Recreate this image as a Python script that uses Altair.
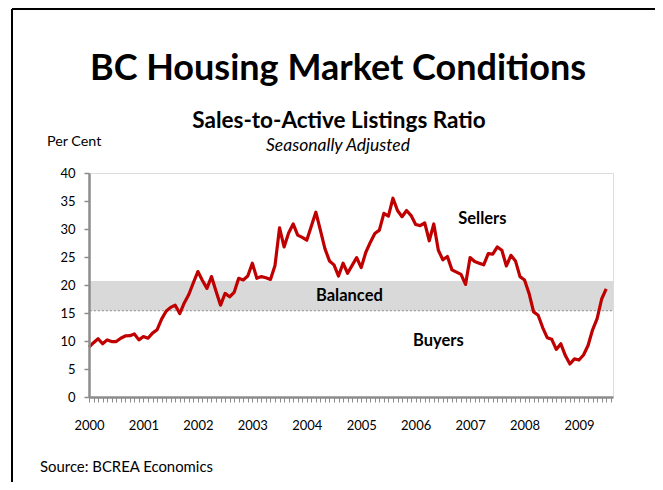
import altair as alt
import pandas as pd

# Monthly sales-to-active listings ratio, Jan 2000 .. Jul 2009
ratio = [8.9, 9.7, 10.4, 9.5, 10.2, 9.9, 9.9, 10.5, 10.9, 10.95, 11.25, 10.2,
         10.8, 10.5, 11.4, 12.0, 13.9, 15.3, 16.0, 16.4, 14.9, 16.8, 18.3, 20.4,
         22.4, 20.8, 19.4, 21.5, 18.9, 16.4, 18.5, 17.9, 18.7, 21.2, 20.9, 21.6,
         23.9, 21.2, 21.5, 21.3, 21.0, 23.5, 30.2, 26.8, 29.3, 30.9, 28.9, 28.5,
         28.0, 30.5, 33.0, 29.8, 26.5, 24.3, 23.6, 21.6, 23.9, 22.1, 23.5, 24.9,
         23.1, 25.8, 27.6, 29.2, 29.8, 32.8, 32.3, 35.5, 33.3, 32.2, 33.3, 32.4,
         30.8, 30.6, 31.1, 27.9, 30.9, 26.2, 24.5, 25.1, 22.7, 22.3, 21.9, 20.1,
         24.9, 24.2, 23.9, 23.6, 25.6, 25.5, 26.8, 26.2, 23.4, 25.3, 24.3, 21.5,
         20.9, 18.5, 15.2, 14.6, 12.4, 10.6, 10.3, 8.5, 9.5, 7.4, 5.9, 6.8,
         6.6, 7.5, 9.2, 12.0, 14.0, 17.5, 19.3]
years = [str(y) for y in range(2000, 2010)]
month_index = list(range(len(ratio)))

band_low = [15.4]
band_high = [20.7]

region_labels = ["Sellers", "Balanced", "Buyers"]
region_x = [86.7, 57.4, 77.0]
region_y = [31.8, 18.1, 10.0]

FONT = "Lato"
W, H = 524, 224
XMAX = 115.5

df = pd.DataFrame({"m": month_index, "ratio": ratio})
band_df = pd.DataFrame({"lo": band_low, "hi": band_high, "x0": [0.2], "x1": [XMAX]})
lab_df = pd.DataFrame({"label": region_labels, "m": region_x, "v": region_y})

xscale = alt.Scale(domain=[0, XMAX], nice=False, zero=False)
yscale = alt.Scale(domain=[0, 40], nice=False)

x_axis = alt.Axis(
    values=list(range(0, 116)),
    labelExpr="datum.value % 12 == 0 ? '' + (2000 + datum.value / 12) : ''",
    labelOverlap=False, labelFlush=False, labelBound=False, grid=False, title=None,
    domainColor="#8c8c8c", domainWidth=2.5, tickColor="#8c8c8c", tickSize=5,
    tickWidth=1, labelPadding=17, labelFont=FONT, labelFontSize=13,
    labelColor="#000000", zindex=1,
)
y_axis = alt.Axis(
    values=list(range(0, 41, 5)), grid=False, title=None,
    labelOverlap=False, labelBound=False,
    domainColor="#8c8c8c", domainWidth=2.5, tickColor="#8c8c8c", tickSize=5,
    tickWidth=1.5, labelPadding=9, labelFont=FONT, labelFontSize=13,
    labelColor="#000000", zindex=1,
)

band = alt.Chart(band_df).mark_rect(color="#d9d9d9").encode(
    x=alt.X("x0:Q", scale=xscale, axis=x_axis),
    x2="x1:Q",
    y=alt.Y("lo:Q", scale=yscale, axis=y_axis),
    y2="hi:Q",
)
band_edge = alt.Chart(band_df).mark_rule(color="#8c8c8c", strokeDash=[2, 2], strokeWidth=1).encode(
    x=alt.X("x0:Q", scale=xscale, axis=x_axis), x2="x1:Q",
    y=alt.Y("lo:Q", scale=yscale, axis=y_axis)
)
line = alt.Chart(df).mark_line(color="#c00000", strokeWidth=3.2, strokeJoin="round").encode(
    x=alt.X("m:Q", scale=xscale, axis=x_axis),
    y=alt.Y("ratio:Q", scale=yscale, axis=y_axis),
)
labels = alt.Chart(lab_df).mark_text(font=FONT, fontSize=16.5, fontWeight="bold", color="#000000").encode(
    x=alt.X("m:Q", scale=xscale, axis=x_axis),
    y=alt.Y("v:Q", scale=yscale, axis=y_axis),
    text="label:N"
)


def fixed_text(txt, x, y, size, weight="normal", style="normal", align="center"):
    return alt.Chart(pd.DataFrame({"t": [txt]})).mark_text(
        font=FONT, fontSize=size, fontWeight=weight, fontStyle=style,
        align=align, baseline="alphabetic", color="#000000",
    ).encode(x=alt.value(x), y=alt.value(y), text="t:N")


title = fixed_text("BC Housing Market Conditions", 249, -93, 36, weight="bold")
subtitle = fixed_text("Sales-to-Active Listings Ratio", 250, -45, 22.5, weight="bold")
sub2 = fixed_text("Seasonally Adjusted", 249, -22, 17.5, style="italic")
unit = fixed_text("Per Cent", -42, -27, 14.3, align="left")
source = fixed_text("Source: BCREA Economics", -49, 299, 14.9, align="left")

frame_top = alt.Chart(pd.DataFrame({"k": [0]})).mark_rule(color="#000000", strokeWidth=2).encode(
    x=alt.value(-77), x2=alt.value(570), y=alt.value(-164)
)
frame_left = alt.Chart(pd.DataFrame({"k": [0]})).mark_rule(color="#000000", strokeWidth=2).encode(
    x=alt.value(-77), y=alt.value(-164), y2=alt.value(320)
)

chart = alt.layer(
    band, band_edge, line, labels, title, subtitle, sub2, unit, source, frame_top, frame_left
).properties(
    width=W, height=H,
    autosize=alt.AutoSizeParams(type="none"),
    padding={"left": 81, "top": 165, "right": 42, "bottom": 85},
).configure_view(stroke=None, clip=False).configure_axis(
    labelOverlap=False
).configure(background="#ffffff")

chart.save("out.html", embed_options={"renderer": "svg", "actions": False})
